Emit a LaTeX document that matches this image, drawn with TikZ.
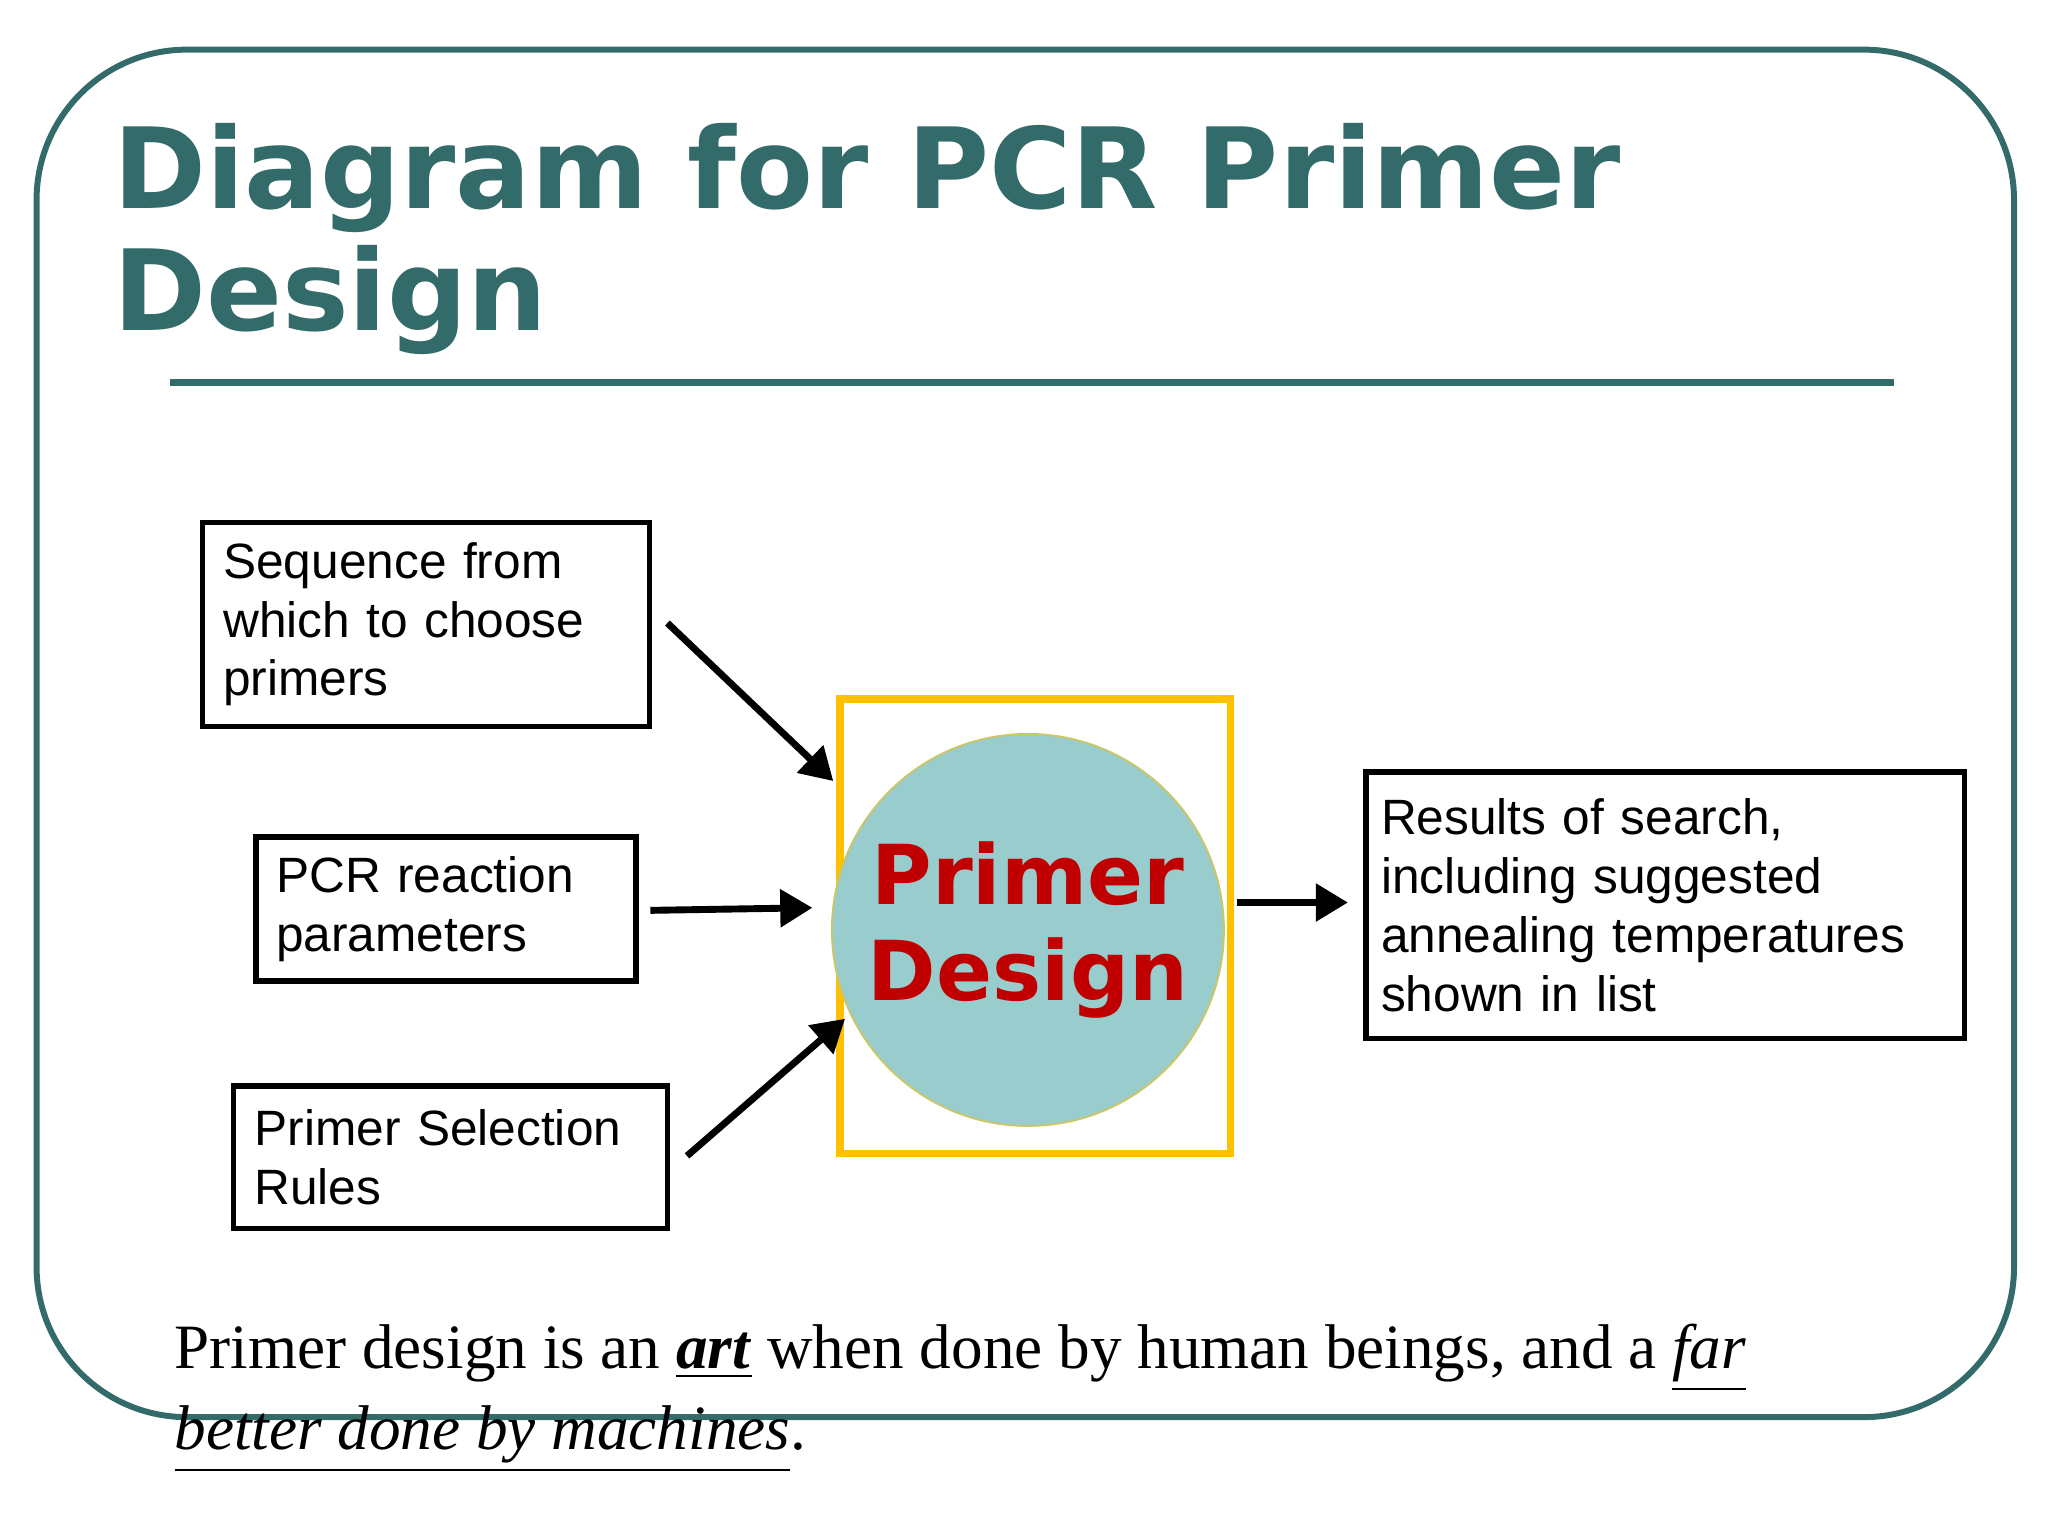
\documentclass[tikz,border=0pt]{standalone}
\usepackage{fontspec}
\setmainfont{Liberation Serif}
\newfontfamily\arialf{Liberation Sans}
\newfontfamily\titlef{DejaVu Sans}
\usetikzlibrary{arrows.meta}
\definecolor{teal1}{HTML}{336B6B}
\definecolor{gold1}{HTML}{FFC000}
\definecolor{cyan1}{HTML}{99CCCC}
\definecolor{red1}{HTML}{C00000}
\begin{document}
\begin{tikzpicture}[x=0.01cm,y=-0.01cm,
  inbox/.style={draw,line width=1.2pt,font=\arialf\fontsize{10.8}{12.8}\selectfont,align=left,inner sep=0pt},
  arr/.style={line width=1.5pt,-{Triangle[length=7pt,width=8pt]}}]
\useasboundingbox (0,0) rectangle (1568,1176);
\fill[white] (0,0) rectangle (1568,1176);
\draw[teal1,line width=1.3pt,rounded corners=1.15cm] (28,38) rectangle (1542,1085);
\node[anchor=base west,inner sep=0,teal1,font=\titlef\bfseries\fontsize{24.4}{30}\selectfont,align=left] (title) at (86,160) {Diagram for PCR Primer};
\node[anchor=base west,inner sep=0,teal1,font=\titlef\bfseries\fontsize{24.4}{30}\selectfont] (title2) at (86,253) {Design};
\draw[teal1,line width=1.4pt] (130,293) -- (1450,293);
\node[inbox,minimum width=3.42cm,minimum height=1.56cm,text width=3.1cm] (b1) at (326,478) {Sequence from\\which to choose\\primers};
\node[inbox,minimum width=2.91cm,minimum height=1.10cm,text width=2.6cm] (b2) at (341.5,696) {PCR reaction\\parameters};
\node[inbox,minimum width=3.32cm,minimum height=1.09cm,text width=3.0cm] (b3) at (345,886) {Primer Selection\\Rules};
\node[inbox,minimum width=4.58cm,minimum height=2.04cm,text width=4.35cm] (b4) at (1275,693) {Results of search,\\including suggested\\annealing temperatures\\shown in list};
\node[draw=gold1,line width=1.7pt,minimum width=2.99cm,minimum height=3.48cm,inner sep=0] (yb) at (792.5,709) {};
\node[circle,fill=cyan1,draw=gold1!50!cyan1,line width=0.4pt,minimum size=3.0cm,inner sep=0,align=center,text=red1,font=\titlef\bfseries\fontsize{18}{21}\selectfont] (pd) at (787,712) {Primer\\Design};
\coordinate (a1s) at (511,477); \coordinate (a1e) at (638,598);
\coordinate (a2s) at (498,697); \coordinate (a2e) at (622,695);
\coordinate (a3s) at (526,885); \coordinate (a3e) at (647,780);
\coordinate (a4s) at (947,691); \coordinate (a4e) at (1032,691);
\draw[arr] (a1s) -- (a1e);
\draw[arr] (a2s) -- (a2e);
\draw[arr] (a3s) -- (a3e);
\draw[arr] (a4s) -- (a4e);
\node[anchor=base west,inner sep=0,font=\fontsize{13.75}{16}\selectfont] (t1) at (133,1048) {Primer design is an \underline{\textbf{\textit{art}}} when done by human beings, and a \underline{\textit{far}}};
\node[anchor=base west,inner sep=0,font=\fontsize{13.75}{16}\selectfont] (t2) at (133,1110) {\underline{\textit{better done by machines}}.};
\end{tikzpicture}
\end{document}
